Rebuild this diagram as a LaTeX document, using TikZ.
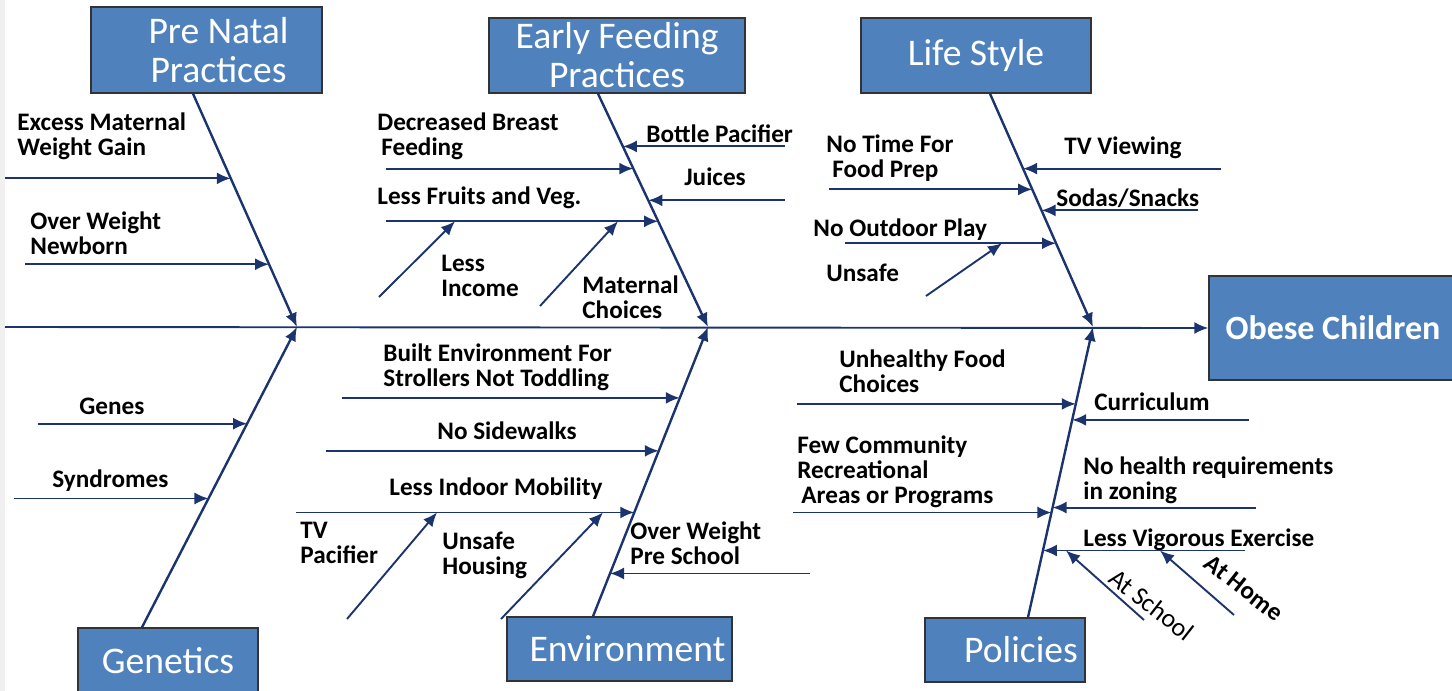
\documentclass[tikz,border=0pt]{standalone}
\usepackage{fontspec}
\setmainfont{Carlito}
\usetikzlibrary{arrows.meta}
\usetikzlibrary{calc}
\definecolor{boxblue}{RGB}{79,129,189}
\definecolor{bonecol}{RGB}{28,52,110}
\tikzstyle{cause} = [draw=black!80, line width=0.7pt, fill=boxblue, text=white, align=center, inner sep=0pt, font=\fontsize{18.8}{19.5}\selectfont]
\tikzstyle{line} = [draw=bonecol, line width=0.95pt, -{Latex[length=7pt,width=6pt]}]
\tikzstyle{bone} = [line, line width=1.2pt]
\tikzstyle{lbl} = [anchor=west, align=left, inner sep=0pt, font=\fontsize{12.6}{12.5}\selectfont\bfseries]

\begin{document}
\begin{tikzpicture}[x=0.5pt,y=-0.5pt]
\useasboundingbox (0,0) rectangle (1452,691);
\fill[gray!12] (0,0) rectangle (5,691);

% effect box and spine
\node[cause, minimum width=124pt, minimum height=52pt, font=\fontsize{17}{20}\selectfont\bfseries] (oc) at (1333,328) {Obese Children};
\coordinate (tail) at (5,327);
\coordinate (j1) at (297,327);
\coordinate (j2) at (708,327);
\coordinate (j3) at (1093,327);
\path [line] (tail) -- (oc.west);

% cause boxes
\node[cause, minimum width=115.5pt, minimum height=43pt] (pn) at (206.5,50) {\hspace{12pt}Pre Natal\\\hspace{12pt}Practices};
\node[cause, minimum width=128pt, minimum height=37.5pt] (ef) at (617,55.5) {Early Feeding\\Practices};
\node[cause, minimum width=115pt, minimum height=37.5pt] (ls) at (976,55.5) {Life Style};
\node[cause, minimum width=90pt, minimum height=33pt] (gn) at (168,661) {Genetics};
\node[cause, minimum width=112.5pt, minimum height=32pt] (en) at (619.5,649) {\hspace{8pt}Environment};
\node[cause, minimum width=80pt, minimum height=32pt] (po) at (1005,650) {\hspace{16pt}Policies};

% bones
\coordinate (pnb) at ($(pn.south)+(-13.5,0)$);
\coordinate (efb) at ($(ef.south)+(-19,0)$);
\coordinate (lsb) at ($(ls.south)+(14,0)$);
\coordinate (gnb) at ($(gn.north)+(-26,0)$);
\coordinate (enb) at ($(en.north)+(-26.5,0)$);
\coordinate (pob) at ($(po.north)+(23,0)$);
\path [bone] (pnb) -- (j1);
\path [bone] (efb) -- (j2);
\path [bone] (lsb) -- (j3);
\path [bone] (gnb) -- (j1);
\path [bone] (enb) -- (j2);
\path [bone] (pob) -- (j3);

% pre natal
\node[lbl] (emw) at (17,136) {Excess Maternal\\Weight Gain};
\node[lbl] (own) at (30,233) {Over Weight\\Newborn};
\coordinate (emw1) at ($(pnb)!.363!(j1)$);
\coordinate (own1) at ($(pnb)!.731!(j1)$);
\path [line] (emw1 -| tail) -- (emw1);
\path [line] (own1 -| 25,0) -- (own1);

% early feeding
\node[lbl] (dbf) at (377,136) {Decreased Breast\\\hspace{2pt}Feeding};
\node[lbl] (bp) at (646,134) {Bottle Pacifier};
\node[lbl] (ju) at (684,177) {Juices};
\node[lbl] (lfv) at (377,198) {Less Fruits and Veg.};
\node[lbl] (li) at (441,276) {Less\\Income};
\node[lbl] (mc) at (582,297) {Maternal\\Choices};
\coordinate (dbf1) at ($(efb)!.321!(j2)$);
\coordinate (bp1) at ($(efb)!.226!(j2)$);
\coordinate (ju1) at ($(efb)!.457!(j2)$);
\coordinate (lfv1) at ($(efb)!.547!(j2)$);
\path [line] (dbf1 -| 386,0) -- (dbf1);
\path [line] (bp1 -| 785,0) -- (bp1);
\path [line] (ju1 -| 785,0) -- (ju1);
\path [line] (lfv1 -| 386,0) -- (lfv1);
\coordinate (li0) at (379,297);
\coordinate (mc0) at (540,306);
\path [line] (li0) -- (lfv1 -| 455,0);
\path [line] (mc0) -- (lfv1 -| 618,0);

% life style
\node[lbl] (ntf) at (826,158) {No Time For\\\hspace{3pt}Food Prep};
\node[lbl] (tv) at (1064,148) {TV Viewing};
\node[lbl] (ss) at (1056,198) {Sodas/Snacks};
\node[lbl] (nop) at (813,230) {No Outdoor Play};
\node[lbl] (un) at (826,273) {Unsafe};
\coordinate (ntf1) at ($(lsb)!.410!(j3)$);
\coordinate (tv1) at ($(lsb)!.321!(j3)$);
\coordinate (ss1) at ($(lsb)!.500!(j3)$);
\coordinate (nop1) at ($(lsb)!.641!(j3)$);
\path [line] (ntf1 -| 829,0) -- (ntf1);
\path [line] (tv1 -| 1221,0) -- (tv1);
\path [line] (ss1 -| 1198,0) -- (ss1);
\path [line] (nop1 -| 845,0) -- (nop1);
\coordinate (un0) at (926,296);
\path [line] (un0) -- (nop1 -| 1002,0);

% genetics
\node[lbl] (ge) at (79,406) {Genes};
\node[lbl] (sy) at (52,481) {Syndromes};
\coordinate (ge1) at ($(gnb)!.678!(j1)$);
\coordinate (sy1) at ($(gnb)!.429!(j1)$);
\path [line] (ge1 -| 38,0) -- (ge1);
\path [line] (sy1 -| 14,0) -- (sy1);

% environment
\node[lbl] (be) at (383,367) {Built Environment For\\Strollers Not Toddling};
\node[lbl] (ns) at (437,431) {No Sidewalks};
\node[lbl] (lim) at (389,489) {Less Indoor Mobility};
\node[lbl] (tvp) at (300,543) {TV\\Pacifier};
\node[lbl] (uh) at (442,555) {Unsafe\\Housing};
\node[lbl] (ows) at (630,543) {Over Weight\\Pre School};
\coordinate (be1) at ($(enb)!.755!(j2)$);
\coordinate (ns1) at ($(enb)!.572!(j2)$);
\coordinate (lim1) at ($(enb)!.359!(j2)$);
\coordinate (ows1) at ($(enb)!.148!(j2)$);
\path [line] (be1 -| 342,0) -- (be1);
\path [line] (ns1 -| 326,0) -- (ns1);
\path [line] (lim1 -| 296,0) -- (lim1);
\path [line] (ows1 -| 810,0) -- (ows1);
\coordinate (tvp0) at (347,619);
\coordinate (uh0) at (501,619);
\path [line] (tvp0) -- (lim1 -| 437,0);
\path [line] (uh0) -- (lim1 -| 603,0);

% policies
\node[lbl] (uf) at (839,371) {Unhealthy Food\\Choices};
\node[lbl] (cu) at (1094,402) {Curriculum};
\node[lbl] (fc) at (797,472) {Few Community\\Recreational\\\hspace{2pt}Areas or Programs};
\node[lbl] (nh) at (1083,480) {No health requirements\\in zoning};
\node[lbl] (lve) at (1083,540) {Less Vigorous Exercise};
\node[lbl, anchor=center, rotate=-38, font=\fontsize{13}{13}\selectfont] (asc) at (1152,605) {At School};
\node[lbl, anchor=center, rotate=-38] (ah) at (1244,588) {At Home};
\coordinate (uf1) at ($(pob)!.735!(j3)$);
\coordinate (cu1) at ($(pob)!.680!(j3)$);
\coordinate (fc1) at ($(pob)!.361!(j3)$);
\coordinate (nh1) at ($(pob)!.378!(j3)$);
\coordinate (lve1) at ($(pob)!.230!(j3)$);
\path [line] (uf1 -| 797,0) -- (uf1);
\path [line] (cu1 -| 1249,0) -- (cu1);
\path [line] (fc1 -| 793,0) -- (fc1);
\path [line] (nh1 -| 1256,0) -- (nh1);
\path [line] (lve1 -| 1245,0) -- (lve1);
\coordinate (asc0) at (1144,620);
\coordinate (ah0) at (1234,615);
\path [line] (asc0) -- (lve1 -| 1066,0);
\path [line] (ah0) -- (lve1 -| 1160,0);
\end{tikzpicture}
\end{document}
